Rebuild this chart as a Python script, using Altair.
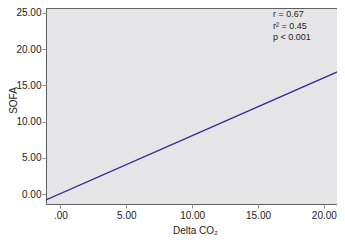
import altair as alt
import pandas as pd

# Regression line endpoints
line_x = [-1.1, 21.1]
line_y = [-0.82, 16.94]

x_ticks = [0, 5, 10, 15, 20]
y_ticks = [0, 5, 10, 15, 20, 25]
annotation = ["r = 0.67", "r\u00b2 = 0.45", "p < 0.001"]

df = pd.DataFrame({"x": line_x, "y": line_y})

FONT = "Liberation Sans"

x_scale = alt.Scale(domain=[-1.1, 21.0], nice=False, zero=False)
y_scale = alt.Scale(domain=[-1.38, 25.69], nice=False, zero=False)

line = alt.Chart(df).mark_line(color="#2b2b94", strokeWidth=1.3, clip=True).encode(
    x=alt.X("x:Q", scale=x_scale,
            axis=alt.Axis(values=x_ticks, title="Delta CO\u2082",
                          labelExpr="datum.value == 0 ? '.00' : format(datum.value, '.2f')",
                          titleX=149, titleY=29, titleBaseline="alphabetic")),
    y=alt.Y("y:Q", scale=y_scale,
            axis=alt.Axis(values=y_ticks, title="SOFA", format=".2f",
                          titleX=-38, titleY=92, titleBaseline="top",
                          titleAngle=-90, titleAlign="center", labelPadding=1)),
)

text = alt.Chart(pd.DataFrame({"t": [0]})).mark_text(
    text=annotation, align="left", baseline="alphabetic", fontSize=9,
    lineHeight=11.5, font=FONT, color="#222"
).encode(x=alt.value(227), y=alt.value(9))

chart = (line + text).properties(
    width=291, height=196,
    autosize=alt.AutoSizeParams(type="none"),
    padding={"left": 38, "top": 0, "right": 0, "bottom": 32},
).configure_view(
    fill="#e5e5e7", stroke="#606060", strokeWidth=1
).configure_axis(
    domain=False, grid=False, ticks=True, tickSize=4, tickColor="#909090",
    labelFont=FONT, labelFontSize=10, labelColor="#222",
    titleFont=FONT, titleFontSize=10, titleColor="#222", titleFontWeight="normal",
    labelPadding=2,
)

chart.save("out.html", embed_options={"renderer": "svg", "actions": False})
